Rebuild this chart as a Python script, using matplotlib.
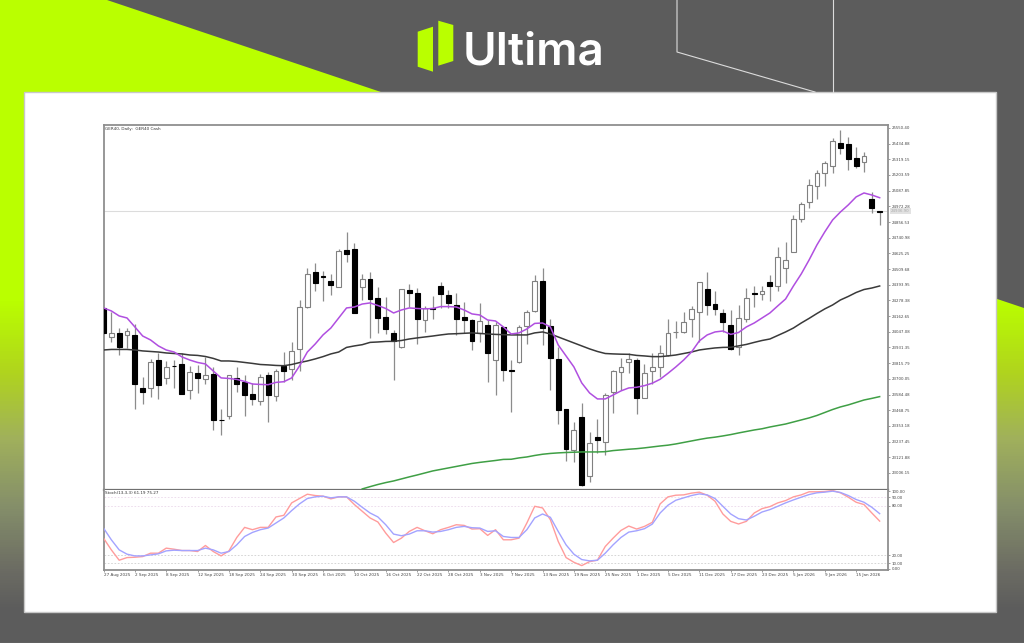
import numpy as np
import matplotlib
matplotlib.use('Agg')
import matplotlib.pyplot as plt
from matplotlib.colors import LinearSegmentedColormap
from matplotlib.patches import Polygon, Rectangle

# ── data ───────────────────────────────────────────────────────────────────────
opens = [24223,24009,24039,24024,24024,23633,23633,23839,23707,23795,
         23810,23618,23744,23699,23736,23400,23426,23707,23677,23589,
         23537,23729,23574,23795,23773,23921,24230,24488,24459,24422,
         24378,24651,24658,24378,24437,24297,24157,24039,23935,24356,
         24334,24134,24223,24385,24319,24245,24157,24134,24039,24098,
         23839,24083,23762,23825,24090,24201,24422,24090,23847,23478,
         23175,23419,22984,23271,23235,23604,23751,23825,23839,23559,
         23758,23788,23876,24046,24046,24142,24193,24363,24252,24186,
         24098,23935,24142,24334,24326,24415,24385,24518,24636,24879,
         25005,25123,25219,25270,25440,25432,25329,25300,25027,24939]
closes = [24038,24039,23935,24053,23662,23604,23825,23655,23788,23792,
          23589,23751,23707,23729,23397,23397,23729,23662,23581,23552,
          23714,23581,23758,23758,23906,24230,24474,24407,24452,24393,
          24643,24621,24186,24437,24289,24149,24068,23980,24363,24334,
          24142,24223,24216,24326,24260,24142,24134,23980,24127,23891,
          24098,23766,23756,24083,24193,24422,24075,23854,23471,23183,
          23323,22918,23227,23249,23581,23758,23788,23847,23559,23744,
          23788,23891,24039,24049,24120,24216,24415,24245,24216,24120,
          23921,24149,24297,24326,24348,24385,24599,24577,24879,24990,
          25130,25219,25292,25454,25403,25322,25270,25344,24961,24934]
highs = [24223,24193,24075,24075,24105,23714,23847,23891,23832,23839,
         23891,23795,23803,23862,23788,23478,23729,23788,23729,23670,
         23736,23751,23773,23898,23972,24282,24518,24555,24496,24474,
         24658,24784,24702,24474,24488,24378,24304,24061,24363,24400,
         24370,24238,24311,24415,24356,24334,24267,24142,24260,24134,
         24120,24083,23839,24098,24208,24466,24518,24142,23935,23478,
         23382,23522,23308,23404,23596,23766,23854,23891,23854,23810,
         23891,23950,24142,24127,24193,24238,24415,24488,24348,24216,
         24208,24245,24370,24385,24385,24466,24673,24710,24909,25005,
         25174,25241,25307,25477,25535,25484,25410,25373,25078,24939]
lows = [24038,23972,23876,23928,23478,23515,23567,23552,23662,23633,
        23589,23552,23596,23662,23323,23286,23404,23604,23426,23508,
        23508,23382,23537,23677,23692,23758,24223,24348,24275,24319,
        24378,24562,24186,24282,24002,24039,24031,23692,23928,24230,
        23957,24046,24142,24223,24223,24024,24039,23913,23972,23677,
        23581,23685,23456,23817,23957,24193,23950,23618,23367,23095,
        23087,22910,22940,23153,23138,23448,23618,23744,23441,23559,
        23662,23714,23869,24002,24039,24009,23972,24171,24171,24046,
        23913,23876,24120,24230,24282,24275,24348,24407,24636,24857,
        24961,25027,25123,25219,25358,25241,25255,25226,24924,24835]

ma_fast = [24223,24201,24164,24149,24083,24016,23987,23943,23913,23898,
           23862,23839,23821,23810,23758,23707,23703,23696,23681,23662,
           23659,23657,23674,23679,23707,23795,23898,23957,24024,24075,
           24149,24223,24230,24252,24260,24241,24219,24186,24208,24223,
           24219,24216,24219,24233,24233,24230,24208,24179,24171,24134,
           24127,24083,24031,24039,24068,24109,24112,24083,23950,23869,
           23788,23670,23596,23552,23552,23581,23611,23633,23638,23650,
           23668,23697,23741,23788,23839,23898,23980,24024,24046,24053,
           24028,24042,24083,24112,24149,24186,24238,24289,24385,24474,
           24577,24688,24784,24872,24931,24983,25042,25071,25056,25036]
ma_mid = [23913,23917,23917,23917,23913,23906,23902,23898,23891,23887,
          23884,23876,23873,23865,23851,23832,23832,23828,23821,23814,
          23806,23803,23799,23797,23806,23820,23832,23847,23864,23884,
          23898,23932,23943,23952,23969,23972,23976,23977,23983,23994,
          24002,24009,24016,24024,24031,24033,24036,24039,24035,24031,
          24028,24026,24024,24024,24024,24039,24046,24031,24009,23987,
          23965,23943,23921,23902,23887,23884,23882,23881,23873,23869,
          23864,23864,23869,23876,23887,23898,23913,23921,23928,23932,
          23933,23943,23954,23969,23983,23994,24020,24046,24075,24112,
          24146,24182,24216,24245,24282,24308,24337,24359,24370,24385]
# the slow average only comes into view at bar 33
ma_slow_first_bar = 33
ma_slow = [22888,22905,22921,22935,22947,22962,22977,
           22991,23006,23021,23032,23043,23054,23065,23076,23084,23091,
           23098,23106,23107,23117,23124,23135,23144,23150,23154,23157,
           23159,23161,23161,23161,23163,23171,23176,23181,23185,23191,
           23198,23205,23211,23220,23231,23242,23253,23263,23270,23279,
           23289,23301,23312,23323,23332,23345,23356,23367,23382,23397,
           23412,23430,23452,23474,23493,23508,23526,23544,23556,23569]

stoch_main = [40.6,26.4,13.9,17.1,17.5,18.3,22.4,22.4,28.5,27.2,
              25.6,25.6,24.4,31.7,24.4,19.1,25.2,41.4,53.6,50.8,
              53.6,53.6,66.2,68.2,83.2,88.5,93.7,92.1,91.3,88.1,
              90.5,90.5,81.2,73.1,65.0,60.1,46.7,35.3,40.6,48.7,
              53.6,49.5,45.9,50.8,53.6,56.8,56.0,51.6,52.0,43.9,
              50.8,38.6,38.6,40.6,58.9,79.1,77.1,62.9,36.6,17.1,
              11.4,7.4,12.2,13.9,30.5,40.6,49.9,55.2,51.6,54.8,
              59.7,82.0,90.5,92.5,92.9,95.0,96.2,92.5,85.2,69.8,
              60.9,57.7,60.9,71.0,76.3,78.7,83.2,86.0,90.5,92.9,
              96.6,96.6,97.0,98.2,95.4,90.1,84.0,81.2,71.0,61.2]
stoch_signal = [52.8,38.6,26.4,21.2,19.1,19.1,20.3,21.6,25.2,26.0,
                25.6,25.6,25.6,28.5,26.4,22.4,24.4,32.5,42.6,47.5,
                50.8,52.8,58.9,65.0,73.9,82.0,88.5,90.5,91.3,89.3,
                90.5,90.5,85.2,77.9,71.0,66.2,56.8,45.5,43.5,45.5,
                49.5,49.5,47.9,48.7,50.8,53.6,54.8,53.2,52.8,48.7,
                49.5,42.6,41.4,41.4,50.8,65.0,69.8,65.8,48.7,32.5,
                21.2,14.7,13.1,13.9,22.4,32.5,41.4,47.9,49.5,52.0,
                57.6,71.0,80.4,86.4,89.3,92.1,94.1,92.9,88.5,79.1,
                69.8,64.1,62.5,67.0,72.2,75.1,79.1,83.2,86.8,90.1,
                93.3,95.4,96.2,97.4,95.8,92.1,87.3,84.0,77.9,70.2]

price_ticks = [25550.40,25434.88,25319.15,25203.59,25087.85,24972.28,24856.53,24740.98,
               24625.25,24509.68,24393.95,24278.38,24162.65,24047.08,23931.35,23815.79,
               23700.05,23584.48,23468.75,23353.18,23237.45,23121.88,23006.15]
last_price = 24936.90
date_labels = ['27 Aug 2025','2 Sep 2025','8 Sep 2025','12 Sep 2025','18 Sep 2025','24 Sep 2025',
               '30 Sep 2025','6 Oct 2025','10 Oct 2025','16 Oct 2025','22 Oct 2025','28 Oct 2025',
               '3 Nov 2025','7 Nov 2025','13 Nov 2025','19 Nov 2025','25 Nov 2025','1 Dec 2025',
               '5 Dec 2025','11 Dec 2025','17 Dec 2025','23 Dec 2025','5 Jan 2026','9 Jan 2026',
               '15 Jan 2026']
date_step = 4

W, H = 1024, 643
GRAY = '#5c5c5c'
LIME = '#baff00'

fig = plt.figure(figsize=(W / 100, H / 100), dpi=100, facecolor=GRAY)

# ── banner background, pixel coordinates ───────────────────────────────────────
bg = fig.add_axes([0, 0, 1, 1], zorder=0)
bg.set_xlim(0, W)
bg.set_ylim(H, 0)
bg.axis('off')
fade = LinearSegmentedColormap.from_list('fade', [
    (0.0, LIME), (300 / 612, LIME), (373 / 612, '#b0d41e'), (440 / 612, '#a0b05c'),
    (507 / 612, '#858f6a'), (573 / 612, '#6b6b63'), (1.0, GRAY)])
img = bg.imshow(np.linspace(0, 1, 612)[:, None], cmap=fade, aspect='auto', extent=(0, W, 612, 0), zorder=1)
bg.set_xlim(0, W)
bg.set_ylim(H, 0)
wedge = Polygon([(0, 0), (107, 0), (W, 308), (W, 612), (0, 612)], transform=bg.transData, fc='none', ec='none')
bg.add_patch(wedge)
img.set_clip_path(wedge)

bg.add_patch(Rectangle((24, 92), 972, 520, fc='white', ec='#c8c8c8', lw=1, zorder=2))
bg.plot([677, 677, 815], [0, 52, 92], color='#dcdcdc', lw=0.8, zorder=2)
bg.plot([833, 833], [0, 92], color='#dcdcdc', lw=0.8, zorder=2)
bg.plot([0, W], [642.5, 642.5], color='#c4c4c4', lw=0.8, zorder=2)

# logo
bg.add_patch(Polygon([(417.7, 31.7), (433, 26.7), (433, 71.7), (417.7, 66.7)], fc=LIME, ec='none', zorder=3))
bg.add_patch(Polygon([(438.3, 20.7), (453.3, 25), (453.3, 61), (438.3, 65.7)], fc=LIME, ec='none', zorder=3))
bg.text(463, 64.5, 'Ultima', color='white', family='Inter', weight='semibold', fontsize=33, va='baseline', ha='left', zorder=3)

# ── price panel ────────────────────────────────────────────────────────────────
LEFT, RIGHT, TOP, MID, BOTTOM = 103.5, 888, 124.5, 489.5, 570
ax = fig.add_axes([LEFT / W, 1 - MID / H, (RIGHT - LEFT) / W, (MID - TOP) / H], zorder=2)
bars = np.arange(len(closes))
o, h, l, c = map(np.array, (opens, highs, lows, closes))
up = c >= o
ax.vlines(bars, l, h, color='#8c8c8c', lw=0.9, zorder=2)
ax.bar(bars[up], (c - o)[up], bottom=o[up], width=0.62, fc='white', ec='#808080', lw=0.8, zorder=3)
ax.bar(bars[~up], (c - o)[~up], bottom=o[~up], width=0.62, fc='black', ec='black', lw=0.8, zorder=3)
ax.axhline(last_price, color='#dcdcdc', lw=0.8, zorder=1)

ax.plot(bars, ma_mid, color='#3a3a3a', lw=1.1, zorder=4)
ax.plot(bars, ma_fast, color='#b04fe0', lw=1.1, zorder=5)
ax.plot(bars[ma_slow_first_bar:], ma_slow, color='#3f9f45', lw=1.1, zorder=4)

ax.set_xlim(0, (RIGHT - LEFT) / 7.84)
ax.set_ylim(22884, 25576)
ax.set_xticks([])
ax.yaxis.tick_right()
ax.set_yticks(price_ticks)
ax.set_yticklabels([f'{p:.2f}' for p in price_ticks])
ax.tick_params(axis='y', length=1.5, width=0.5, color='#777777', pad=1, labelsize=2.8, labelcolor='#444444')
for s in ax.spines.values():
    s.set_color('#8f8f8f')
    s.set_linewidth(1.3)
ax.spines['bottom'].set_linewidth(1.6)
ax.spines['bottom'].set_color('#707070')
ax.text(0.002, 0.9935, 'GER40, Daily:  GER40 Cash', transform=ax.transAxes, fontsize=3, color='#333333', va='top', ha='left')
ax.text(1.004, last_price, f'{last_price:.2f}', transform=ax.get_yaxis_transform(), fontsize=2.8, color='#aaaaaa',
        va='center', ha='left', bbox=dict(fc='#e2e2e2', ec='none', pad=0.8), zorder=6, clip_on=False)

# ── stochastic panel ───────────────────────────────────────────────────────────
ax2 = fig.add_axes([LEFT / W, 1 - BOTTOM / H, (RIGHT - LEFT) / W, (BOTTOM - MID) / H], zorder=2)
for level, col in [(90, '#ead8ea'), (80, '#ead8ea'), (20, '#cfcfcf'), (10, '#cfcfcf')]:
    ax2.axhline(level, color=col, lw=0.6, ls=(0, (2, 2)), zorder=1)
ax2.plot(bars, stoch_main, color='#ff9c9c', lw=1.0, zorder=3)
ax2.plot(bars, stoch_signal, color='#a3a3ff', lw=1.0, zorder=3)
ax2.set_xlim(0, (RIGHT - LEFT) / 7.84)
ax2.set_ylim(2.07, 99.4)
ax2.set_xticks(bars[::date_step][:len(date_labels)])
ax2.set_xticklabels(date_labels, ha='left')
ax2.yaxis.tick_right()
ax2.set_yticks([97, 90, 80, 20, 10, 3.5])
ax2.set_yticklabels(['100.00', '90.00', '80.00', '20.00', '10.00', '0.00'])
ax2.tick_params(axis='y', length=1.5, width=0.5, color='#777777', pad=1, labelsize=2.8, labelcolor='#444444')
ax2.tick_params(axis='x', length=1.5, width=0.5, color='#777777', pad=1, labelsize=3, labelcolor='#444444')
for s in ax2.spines.values():
    s.set_color('#8f8f8f')
    s.set_linewidth(1.3)
ax2.spines['top'].set_visible(False)
ax2.text(0.002, 0.985, 'Stoch(13,3,3) 61.19 75.27', transform=ax2.transAxes, fontsize=3, color='#333333', va='top', ha='left')

plt.savefig('out.png', dpi=100)
